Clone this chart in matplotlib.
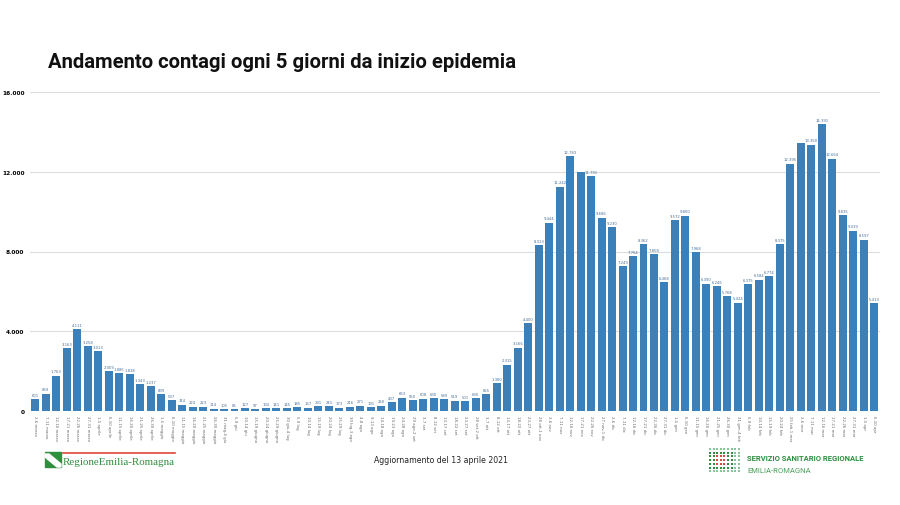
import numpy as np
import matplotlib.pyplot as plt
from matplotlib.patches import Rectangle, Polygon

# contagi per intervallo di 5 giorni
valori = [601, 869, 1763, 3163, 4111, 3258, 3013, 2009, 1885, 1838,
          1343, 1237, 839, 537, 314, 224, 223, 114, 105, 86,
          127, 97, 134, 141, 145, 185, 167, 231, 241, 173,
          216, 271, 191, 260, 437, 663, 550, 608, 630, 589,
          519, 501, 630, 855, 1380, 2315, 3166, 4400, 8313, 9444,
          11242, 12783, 12010, 11791, 9686, 9230, 7249, 7764, 8362, 7858,
          6468, 9572, 9800, 7968, 6390, 6246, 5768, 5424, 6375, 6584,
          6774, 8375, 12395, 13440, 13350, 14391, 12664, 9835, 9039, 8597,
          5413]

periodi = ["2-6 marzo", "7-11 marzo", "12-16 marzo", "17-21 marzo", "22-26 marzo",
           "27-31 marzo", "1-5 aprile", "6-10 aprile", "11-15 aprile", "16-20 aprile",
           "21-25 aprile", "26-30 aprile", "1-5 maggio", "6-10 maggio", "11-15 maggio",
           "16-20 maggio", "21-25 maggio", "26-30 maggio", "31 mag-4 giu", "5-9 giu",
           "10-14 giu", "15-19 giugno", "20-24 giugno", "25-29 giugno", "30 giu-4 lug",
           "5-9 lug", "10-14 lug", "15-19 lug", "20-24 lug", "25-29 lug",
           "30 lug-3 ago", "4-8 ago", "9-13 ago", "14-18 ago", "19-23 ago",
           "24-28 ago", "29 ago-2 set", "3-7 set", "8-12 set", "13-17 set",
           "18-22 set", "23-27 set", "28 set-2 ott", "3-7 ott", "8-12 ott",
           "13-17 ott", "18-22 ott", "23-27 ott", "28 ott-1 nov", "2-6 nov",
           "7-11 nov", "12-16 nov", "17-21 nov", "22-26 nov", "27 nov-1 dic",
           "2-6 dic", "7-11 dic", "12-16 dic", "17-21 dic", "22-26 dic",
           "27-31 dic", "1-5 gen", "6-10 gen", "11-15 gen", "16-20 gen",
           "21-25 gen", "26-30 gen", "31 gen-4 feb", "5-9 feb", "10-14 feb",
           "15-19 feb", "20-24 feb", "25 feb-1 mar", "2-6 mar", "7-11 mar",
           "12-16 mar", "17-21 mar", "22-26 mar", "27-31 mar", "1-5 apr",
           "6-10 apr"]

# barre senza etichetta visibile nell'originale
senza_etichetta = {52, 73}

yticks = [0, 4000, 8000, 12000, 16000]


def punto(n):
    return f"{n:,}".replace(",", ".")


blu = "#3c80ba"
verde = "#2f8f3f"

fig = plt.figure(figsize=(9, 5.06), dpi=100)
ax = fig.add_axes([30 / 900, 1 - 412 / 506, 850 / 900, 319 / 506])

x = np.arange(len(valori))
ax.bar(x, valori, width=0.76, color=blu, zorder=3)
for xi, v in zip(x, valori):
    if xi in senza_etichetta:
        continue
    ax.text(xi, v + 120, punto(v), ha="center", va="bottom", fontsize=2.7,
            color="#4a6e96", zorder=4)

ax.set_xlim(-0.5, len(valori) - 0.45)
ax.set_ylim(0, 16000)
ax.set_yticks(yticks)
ax.set_yticklabels([punto(t) for t in yticks], fontsize=4.2, fontweight="bold")
ax.set_xticks(x)
ax.set_xticklabels(periodi, rotation=-90, fontsize=2.8, color="#666666")
ax.tick_params(axis="both", length=0)
ax.tick_params(axis="y", pad=4)
ax.tick_params(axis="x", pad=3)
ax.grid(axis="y", color="#dcdcdc", linewidth=0.8, zorder=0)
for s in ax.spines.values():
    s.set_visible(False)

fig.text(48 / 900, 1 - 62 / 506, "Andamento contagi ogni 5 giorni da inizio epidemia",
         fontsize=14.6, fontweight="bold", family="Roboto", va="center",
         color="#111111")

fig.text(441 / 900, 1 - 461 / 506, "Aggiornamento del 13 aprile 2021",
         fontsize=5.6, ha="center", va="center", color="#222222")

# logo regione
fa = fig.add_axes([0, 0, 1, 1], zorder=-1)
fa.set_xlim(0, 900)
fa.set_ylim(506, 0)
fa.axis("off")
fa.add_patch(Rectangle((45, 453), 16, 15, color=verde))
fa.add_patch(Polygon([(45, 455), (49, 455), (61, 465), (61, 468), (57, 468), (45, 458)],
                     color="white"))
fa.plot([63, 175], [453.5, 453.5], color="#e2453a", linewidth=1.2)
fa.text(63, 463, "RegioneEmilia-Romagna", fontsize=7.9, family="Liberation Serif",
        color=verde, va="center", ha="left")

# logo servizio sanitario
for r in range(7):
    for c in range(9):
        rosso = 2 <= r <= 4 and 2 <= c <= 4
        col = "#d94a4a" if rosso else (verde if 1 <= r <= 5 and c < 7 else "#8cc49a")
        fa.plot(710 + c * 3.6, 450 + r * 3.7, "s", markersize=1.5, color=col,
                markeredgewidth=0)
fa.text(747, 459, "SERVIZIO SANITARIO REGIONALE", fontsize=5.5, color=verde,
        va="center", fontweight="bold", family="Roboto")
fa.text(747, 471, "EMILIA-ROMAGNA", fontsize=5.5, color="#4aa05a", va="center",
        family="Roboto")

fig.savefig("out.png", dpi=100, facecolor="white")
